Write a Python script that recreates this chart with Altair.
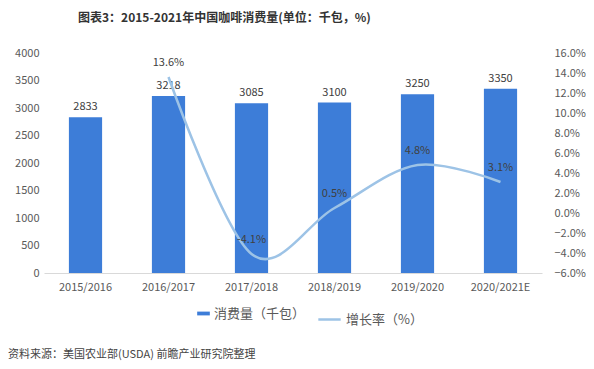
import altair as alt
import pandas as pd

years = ["2015/2016", "2016/2017", "2017/2018", "2018/2019", "2019/2020", "2020/2021E"]
consumption = [2833, 3218, 3085, 3100, 3250, 3350]
growth = [None, 13.6, -4.1, 0.5, 4.8, 3.1]
growth_labels = ["", "13.6%", "-4.1%", "0.5%", "4.8%", "3.1%"]

df = pd.DataFrame({
    "year": years,
    "consumption": consumption,
    "growth": growth,
    "glabel": growth_labels,
    "s1": "消费量（千包）",
    "s2": "增长率（%）",
})

FONT = "Noto Sans CJK SC"
GRAY = "#595959"

x = alt.X("year:N", sort=years, title=None,
          scale=alt.Scale(paddingInner=0.6, paddingOuter=0.3),
          axis=alt.Axis(labelAngle=0, labelFontSize=11, labelColor=GRAY, ticks=False,
                        domainColor="#d9d9d9", labelPadding=8, labelFont=FONT))

yl = alt.Y("consumption:Q", title=None,
           scale=alt.Scale(domain=[0, 4000]),
           axis=alt.Axis(values=list(range(0, 4001, 500)), grid=False, domain=False, ticks=False,
                         format="d", labelFontSize=11, labelColor=GRAY, labelPadding=5, labelFont=FONT))

bars = alt.Chart(df).mark_bar(color="#3D7DD8").encode(
    x=x,
    y=yl,
    color=alt.Color("s1:N", title=None,
                    scale=alt.Scale(range=["#3D7DD8"]),
                    legend=alt.Legend(orient="none", legendX=153, legendY=254, direction="horizontal",
                                      symbolType="M-1,-0.3H1V0.3H-1Z", symbolSize=160,
                                      symbolOpacity=1, labelFontSize=13, labelColor=GRAY,
                                      labelFont=FONT, symbolStrokeWidth=0)),
)

bar_text = alt.Chart(df).mark_text(dy=-10, fontSize=11, color="#404040", font=FONT).encode(
    x=x,
    y=yl,
    text=alt.Text("consumption:Q", format="d"),
)

left = alt.layer(bars, bar_text)

yr = alt.Y("growth:Q", title=None,
           scale=alt.Scale(domain=[-6, 16]),
           axis=alt.Axis(orient="right", values=list(range(-6, 17, 2)), grid=False, domain=False,
                         ticks=False, labelFontSize=11, labelColor=GRAY, labelPadding=12,
                         labelExpr="format(datum.value, '.1f') + '%'", labelFont=FONT))

line = alt.Chart(df).mark_line(interpolate="cardinal", tension=0, strokeWidth=2.5, color="#9DC3E6").encode(
    x=x,
    y=yr,
    stroke=alt.Stroke("s2:N", title=None,
                      scale=alt.Scale(range=["#9DC3E6"]),
                      legend=alt.Legend(orient="none", legendX=273, legendY=254, direction="horizontal",
                                        symbolType="stroke", symbolSize=500, symbolStrokeWidth=2.5,
                                        labelFontSize=13, labelColor=GRAY, labelFont=FONT)),
)

line_text = alt.Chart(df).mark_text(dy=-14, fontSize=11, color="#404040", font=FONT).encode(
    x=x,
    y=yr,
    text="glabel:N",
)

right = alt.layer(line, line_text)

source_df = pd.DataFrame({"t": ["资料来源：美国农业部(USDA) 前瞻产业研究院整理"]})
source = alt.Chart(source_df).mark_text(align="left", baseline="middle", fontSize=11, color="#444444",
                                        font=FONT, fontWeight="normal").encode(
    x=alt.value(-36), y=alt.value(302), text="t:N",
)

chart = alt.layer(left, right, source).resolve_scale(y="independent", color="independent", stroke="independent").properties(
    width=498,
    height=220,
    autosize=alt.AutoSizeParams(type="none"),
    padding={"left": 36, "top": 45, "right": 44, "bottom": 88},
    title=alt.TitleParams("图表3：2015-2021年中国咖啡消费量(单位：千包，%)", anchor="start", dx=70,
                          offset=22, fontSize=12, fontWeight="bold", color="#333333", font=FONT),
).configure_view(stroke=None)

chart.save("out.html", embed_options={"renderer": "svg", "actions": False})
